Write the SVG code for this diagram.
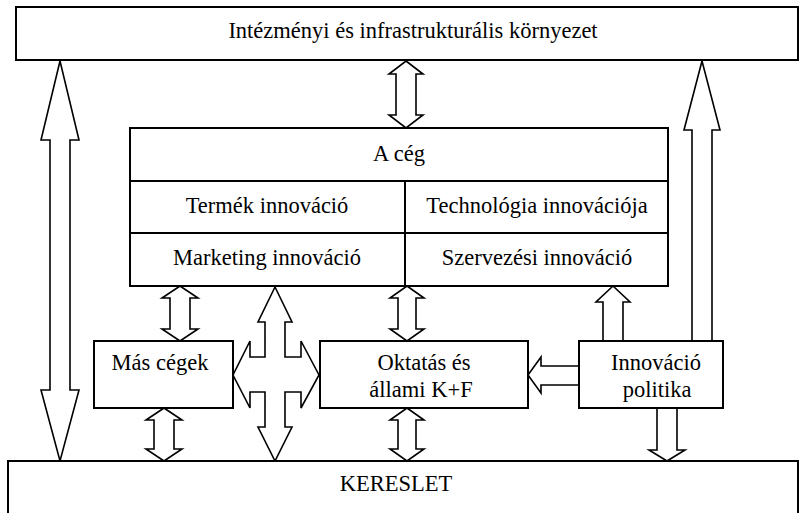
<svg xmlns="http://www.w3.org/2000/svg" width="800" height="513" viewBox="0 0 800 513">
<style>
.box{fill:#fff;stroke:#000;stroke-width:2}
.ln{stroke:#000;stroke-width:2;fill:none}
.arr{fill:#fff;stroke:#000;stroke-width:1.6;stroke-linejoin:miter}
.t{font-family:"Liberation Serif","Times New Roman",serif;font-size:22.5px;fill:#000;text-anchor:middle}
</style>
<rect width="800" height="513" fill="#fff"/>
<g id="connectors">
<polygon class="arr" points="60,61 79,140 70,140 70,390 79,390 60,461 41,390 50,390 50,140 41,140"/>
<polygon class="arr" points="406,61 423,74 416,74 416,115 423,115 406,128 389,115 396,115 396,74 389,74"/>
<polygon class="arr" points="180,286 198,298 190,298 190,329 198,329 180,341 162,329 170,329 170,298 162,298"/>
<polygon class="arr" points="164,408 182,420 174,420 174,449 182,449 164,461 146,449 154,449 154,420 146,420"/>
<polygon class="arr" points="407,286 424,298 416,298 416,329 424,329 407,341 390,329 398,329 398,298 390,298"/>
<polygon class="arr" points="407,408 424,420 416,420 416,449 424,449 407,461 390,449 398,449 398,420 390,420"/>
<polygon class="arr" points="613,286 630,302 623,302 623,341 603,341 603,302 596,302"/>
<polygon class="arr" points="702,61 720,130 712,130 712,341 692,341 692,130 684,130"/>
<polygon class="arr" points="528,375 541,357 541,366 579,366 579,385 541,385 541,393"/>
<polygon class="arr" points="657,408 677,408 677,450 685,450 667,461 649,450 657,450"/>
<polygon class="arr" points="275,287 292,322 285,322 285,357 301,357 301,341 319,375 301,408 301,392 285,392 285,427 292,427 275,461 258,427 265,427 265,392 250,392 250,408 233,375 250,341 250,357 265,357 265,322 258,322"/>
</g>
<g id="env">
<rect class="box" x="16" y="7" width="782" height="53"/>
<text class="t" font-family="Liberation Serif, serif" x="413" y="38">Intézményi és infrastrukturális környezet</text>
</g>
<g id="company">
<rect class="box" x="130" y="128" width="538" height="158"/>
<line class="ln" x1="130" y1="181" x2="668" y2="181"/>
<line class="ln" x1="130" y1="233" x2="668" y2="233"/>
<line class="ln" x1="405" y1="181" x2="405" y2="286"/>
<text class="t" font-family="Liberation Serif, serif" x="399" y="161">A cég</text>
<text class="t" font-family="Liberation Serif, serif" x="267" y="213">Termék innováció</text>
<text class="t" font-family="Liberation Serif, serif" x="537" y="213">Technológia innovációja</text>
<text class="t" font-family="Liberation Serif, serif" x="267" y="265">Marketing innováció</text>
<text class="t" font-family="Liberation Serif, serif" x="537" y="265">Szervezési innováció</text>
</g>
<g id="mas">
<rect class="box" x="94" y="341" width="139" height="67"/>
<text class="t" font-family="Liberation Serif, serif" x="160" y="370">Más cégek</text>
</g>
<g id="oktatas">
<rect class="box" x="320" y="341" width="208" height="67"/>
<text class="t" font-family="Liberation Serif, serif" x="424" y="370">Oktatás és</text>
<text class="t" font-family="Liberation Serif, serif" x="421" y="397">állami K+F</text>
</g>
<g id="politika">
<rect class="box" x="579" y="341" width="144" height="67"/>
<text class="t" font-family="Liberation Serif, serif" x="656" y="370">Innováció</text>
<text class="t" font-family="Liberation Serif, serif" x="657" y="397">politika</text>
</g>
<g id="kereslet">
<rect class="box" x="8" y="461" width="790" height="60"/>
<text class="t" font-family="Liberation Serif, serif" x="396" y="491">KERESLET</text>
</g>
</svg>
